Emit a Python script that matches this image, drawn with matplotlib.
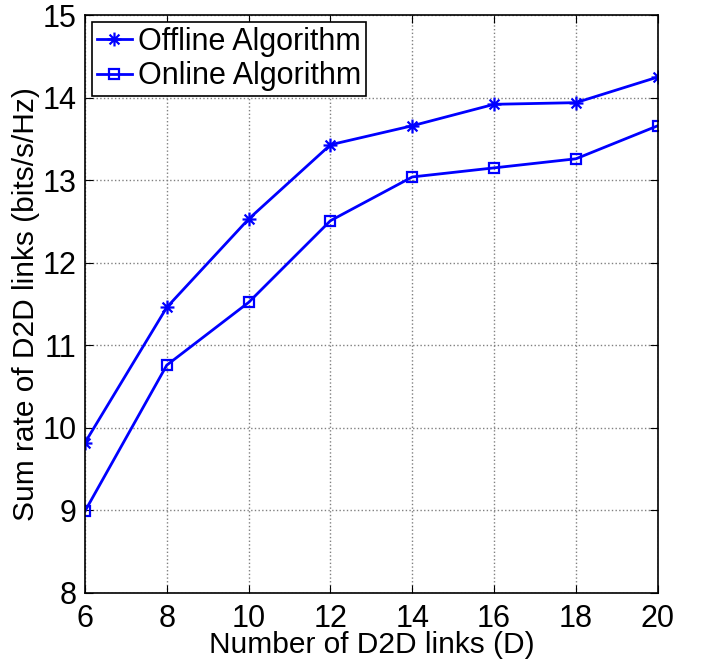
import numpy as np
import matplotlib
matplotlib.use("Agg")
import matplotlib.pyplot as plt
from matplotlib.path import Path

plt.rcParams['font.family'] = ['Liberation Sans', 'DejaVu Sans']

D = [6, 8, 10, 12, 14, 16, 18, 20]
offline = [9.82, 11.46, 12.53, 13.43, 13.66, 13.92, 13.94, 14.25]
online = [8.99, 10.76, 11.52, 12.51, 13.04, 13.15, 13.26, 13.66]

# matlab style asterisk: '+' and 'x' on top of each other
c = 0.7071
verts = [(-1, 0), (1, 0), (0, -1), (0, 1), (-c, -c), (c, c), (-c, c), (c, -c)]
codes = [Path.MOVETO, Path.LINETO] * 4
asterisk = Path(verts, codes)

fig = plt.figure(figsize=(7.02, 6.59), dpi=100)
ax = fig.add_axes([0.121, 0.1002, 0.816, 0.8768])

ax.plot(D, offline, color='blue', lw=2, marker=asterisk, ms=10, mew=1.6,
        label='Offline Algorithm')
ax.plot(D, online, color='blue', lw=2, marker='s', ms=7, mfc='none', mew=1.6,
        label='Online Algorithm')

ax.set_xlim(6, 20)
ax.set_ylim(8, 15)
ax.set_xticks(range(6, 21, 2))
ax.set_yticks(range(8, 16))
ax.grid(True, linestyle=':', color='gray', lw=1)
ax.tick_params(direction='in', top=True, right=True, labelsize=22, length=6)
ax.tick_params(axis='x', pad=8)
ax.tick_params(axis='y', pad=6)
for s in ax.spines.values():
    s.set_linewidth(1.2)

ax.set_xlabel('Number of D2D links (D)', fontsize=21.5, labelpad=-2)
ax.set_ylabel('Sum rate of D2D links (bits/s/Hz)', fontsize=21.5, labelpad=2)

leg = ax.legend(loc='upper left', fontsize=22, fancybox=False, edgecolor='black',
                framealpha=1, borderpad=0.15, labelspacing=0.15, handlelength=1.15,
                handletextpad=0.2, borderaxespad=0.23)
leg.get_frame().set_linewidth(1.2)

fig.savefig('out.png', dpi=100)
